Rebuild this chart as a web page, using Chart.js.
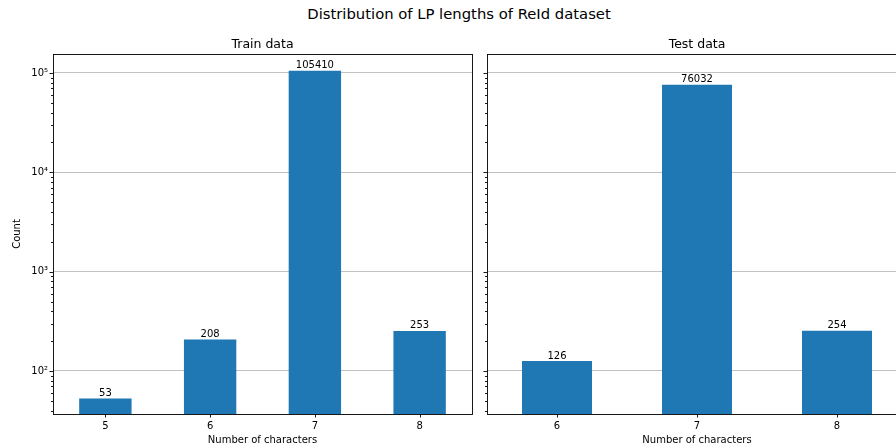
<!DOCTYPE html>
<html>
<head>
<meta charset="utf-8">
<script src="https://cdn.jsdelivr.net/npm/chart.js@4.4.1/dist/chart.umd.min.js"></script>
<style>
    html, body { margin: 0; padding: 0; width: 896px; height: 448px; overflow: hidden; background: #fff; }
    #suptitle { position: absolute; left: 0; top: 5px; width: 918px; text-align: center; font: 14.8px "DejaVu Sans"; color: #000; }
    canvas { position: absolute; top: 0; }
    #train { left: 0; }
    #test { left: 440px; }
</style>
</head>
<body>
<div id="suptitle">Distribution of LP lengths of ReId dataset</div>
<canvas id="train" width="480" height="448"></canvas>
<canvas id="test" width="480" height="448"></canvas>
<script>
const trainCategories = ['5', '6', '7', '8'];
const trainCounts = [53, 208, 105410, 253];
const testCategories = ['6', '7', '8'];
const testCounts = [126, 76032, 254];

const yMajorTicks = [100, 1000, 10000, 100000];
const yTickLabels = ['10²', '10³', '10⁴', '10⁵'];
const yMin = 36.9;
const yMax = 155300;

const BAR_COLOR = '#1f77b4';
const FONT = 'DejaVu Sans';

// major + minor tick positions (2..9 x 10^n) inside the axis range
const yTickValues = [];
for (let p = 10; p <= 100000; p *= 10) {
    for (let m = 1; m <= 9; m++) {
        const v = m * p;
        if (v >= yMin && v <= yMax) {
            yTickValues.push(v);
        }
    }
}

const framePlugin = {
    id: 'frame',
    afterDraw(chart, args, opts) {
        const { ctx, chartArea: area } = chart;
        const xScale = chart.scales.x;
        const yScale = chart.scales.y;

        ctx.save();
        ctx.strokeStyle = '#000';
        ctx.lineWidth = 0.9;

        yScale.ticks.forEach((t) => {
            const py = Math.round(yScale.getPixelForValue(t.value)) + 0.5;
            const len = t.major ? 3.5 : 2;
            ctx.beginPath();
            ctx.moveTo(area.left - len, py);
            ctx.lineTo(area.left, py);
            ctx.stroke();
        });

        xScale.ticks.forEach((t, i) => {
            const px = Math.round(xScale.getPixelForValue(i)) + 0.5;
            ctx.beginPath();
            ctx.moveTo(px, area.bottom);
            ctx.lineTo(px, area.bottom + 3.5);
            ctx.stroke();
        });

        ctx.strokeRect(Math.round(area.left) + 0.5, Math.round(area.top) + 0.5,
            Math.round(area.right - area.left), Math.round(area.bottom - area.top));

        ctx.fillStyle = '#000';
        ctx.textAlign = 'center';

        // bar value labels
        ctx.font = `10px "${FONT}"`;
        ctx.textBaseline = 'alphabetic';
        const values = chart.data.datasets[0].data;
        chart.getDatasetMeta(0).data.forEach((bar, i) => {
            ctx.fillText(String(values[i]), bar.x, bar.y - 2.5);
        });

        const cx = (area.left + area.right) / 2;

        ctx.font = `12.5px "${FONT}"`;
        ctx.fillText(opts.title, cx, 48);

        ctx.font = `10px "${FONT}"`;
        ctx.textBaseline = 'middle';
        ctx.fillText(opts.xLabel, cx, 440);

        if (opts.yLabel) {
            ctx.translate(17, (area.top + area.bottom) / 2);
            ctx.rotate(-Math.PI / 2);
            ctx.fillText(opts.yLabel, 0, 0);
        }
        ctx.restore();
    },
};

function makeChart(canvasId, labels, counts, title, showYLabels, padding, yAxisWidth) {
    return new Chart(document.getElementById(canvasId), {
        type: 'bar',
        data: {
            labels,
            datasets: [{
                data: counts,
                backgroundColor: BAR_COLOR,
                borderWidth: 0,
                barPercentage: 0.5,
                categoryPercentage: 1,
            }],
        },
        options: {
            responsive: false,
            maintainAspectRatio: false,
            animation: false,
            events: [],
            layout: { padding },
            plugins: {
                legend: { display: false },
                tooltip: { enabled: false },
                frame: {
                    title,
                    xLabel: 'Number of characters',
                    yLabel: showYLabels ? 'Count' : '',
                },
            },
            scales: {
                x: {
                    type: 'category',
                    offset: true,
                    grid: { display: false, drawTicks: false },
                    border: { display: false },
                    ticks: {
                        padding: 6,
                        color: '#000',
                        font: { family: FONT, size: 10 },
                        maxRotation: 0,
                    },
                    afterFit: (scale) => { scale.height = 34; },
                },
                y: {
                    type: 'logarithmic',
                    min: yMin,
                    max: yMax,
                    afterBuildTicks: (scale) => {
                        scale.ticks = yTickValues.map((v) => ({ value: v, major: yMajorTicks.includes(v) }));
                    },
                    afterFit: (scale) => { scale.width = yAxisWidth; },
                    grid: {
                        drawTicks: false,
                        lineWidth: 1,
                        color: (ctx) => (ctx.tick && ctx.tick.major ? '#c2c2c2' : 'rgba(0,0,0,0)'),
                    },
                    border: { display: false },
                    ticks: {
                        display: showYLabels,
                        autoSkip: false,
                        padding: 5,
                        color: '#000',
                        font: { family: FONT, size: 10 },
                        callback: (v) => {
                            const i = yMajorTicks.indexOf(v);
                            return i >= 0 ? yTickLabels[i] : '';
                        },
                    },
                },
            },
        },
        plugins: [framePlugin],
    });
}

makeChart('train', trainCategories, trainCounts, 'Train data', true,
    { left: 0, top: 54, right: 8, bottom: 0 }, 53);
makeChart('test', testCategories, testCounts, 'Test data', false,
    { left: 47, top: 54, right: 13, bottom: 0 }, 0);
</script>
</body>
</html>
